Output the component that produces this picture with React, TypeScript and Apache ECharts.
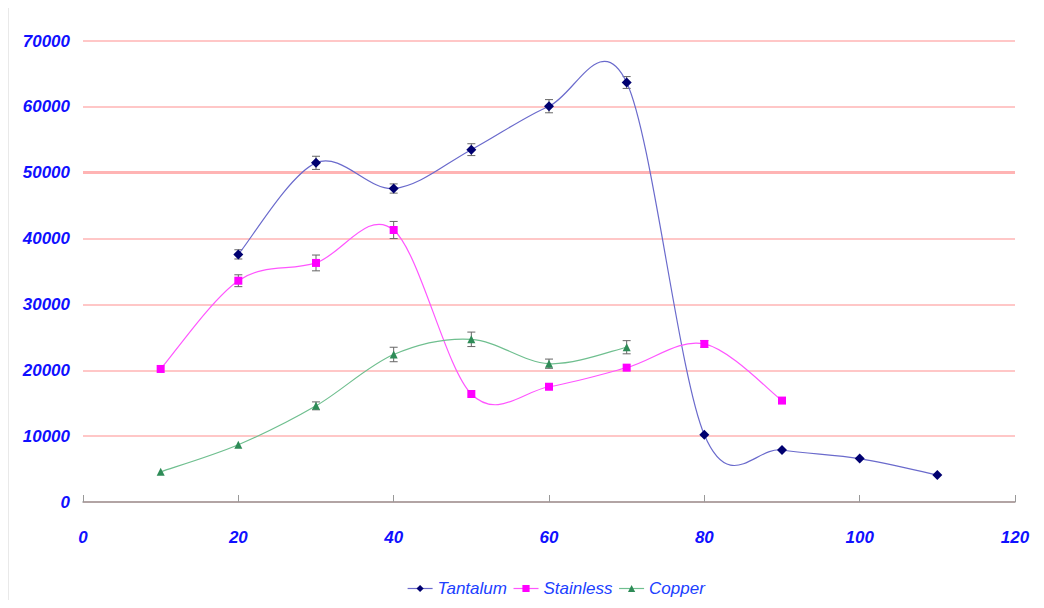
import React, { useEffect, useRef } from "react";
import * as echarts from "echarts";

const tantalumX = [20, 30, 40, 50, 60, 70, 80, 90, 100, 110];
const tantalum = [37600, 51500, 47600, 53500, 60100, 63700, 10200, 7900, 6600, 4100];
const tantalumErr = [700, 1000, 700, 900, 1000, 900, 0, 0, 0, 0];

const stainlessX = [10, 20, 30, 40, 50, 60, 70, 80, 90];
const stainless = [20200, 33600, 36300, 41300, 16400, 17500, 20400, 24000, 15400];
const stainlessErr = [0, 900, 1200, 1300, 0, 0, 0, 500, 0];

const copperX = [10, 20, 30, 40, 50, 60, 70];
const copper = [4600, 8700, 14600, 22400, 24700, 21000, 23500];
const copperErr = [0, 0, 600, 1100, 1100, 700, 1000];

const yTicks = [0, 10000, 20000, 30000, 40000, 50000, 60000, 70000];

function pairs(xs: number[], ys: number[]) {
  return xs.map((x, i) => [x, ys[i]]);
}
function errData(xs: number[], ys: number[], es: number[]) {
  return xs
    .map((x, i) => [x, ys[i] - es[i], ys[i] + es[i]])
    .filter((d, i) => es[i] > 0);
}

const errRender = (params: any, api: any) => {
  const x = api.value(0);
  const lo = api.coord([x, api.value(1)]);
  const hi = api.coord([x, api.value(2)]);
  const w = 4;
  const style = { stroke: "#666", lineWidth: 1 };
  return {
    type: "group",
    children: [
      { type: "line", shape: { x1: lo[0], y1: lo[1], x2: hi[0], y2: hi[1] }, style },
      { type: "line", shape: { x1: lo[0] - w, y1: lo[1], x2: lo[0] + w, y2: lo[1] }, style },
      { type: "line", shape: { x1: hi[0] - w, y1: hi[1], x2: hi[0] + w, y2: hi[1] }, style },
    ],
  };
};

// Excel-like (Catmull-Rom) smoothed segment from point i to point i+1
function makeCurveRender(xs: number[], ys: number[], color: string) {
  return (params: any, api: any) => {
    const i = params.dataIndex;
    const n = xs.length;
    if (i >= n - 1) return { type: "group", children: [] };
    const p = (k: number) => {
      const kk = Math.max(0, Math.min(n - 1, k));
      return api.coord([xs[kk], ys[kk]]);
    };
    const p0 = p(i - 1);
    const p1 = p(i);
    const p2 = p(i + 1);
    const p3 = p(i + 2);
    const t = 1 / 6;
    return {
      type: "bezierCurve",
      shape: {
        x1: p1[0],
        y1: p1[1],
        cpx1: p1[0] + (p2[0] - p0[0]) * t,
        cpy1: p1[1] + (p2[1] - p0[1]) * t,
        cpx2: p2[0] - (p3[0] - p1[0]) * t,
        cpy2: p2[1] - (p3[1] - p1[1]) * t,
        x2: p2[0],
        y2: p2[1],
      },
      style: { stroke: color, lineWidth: 1.2, fill: "none" },
    };
  };
}

const tantalumLine = "#6a6acc";
const stainlessLine = "#ff55ff";
const copperLine = "#6fbf8f";

export default function App() {
  const ref = useRef<HTMLDivElement>(null);
  useEffect(() => {
    const chart = echarts.init(ref.current!, null, { renderer: "svg" });
    const labelFont = {
      color: "#1010ff",
      fontFamily: "Liberation Sans",
      fontWeight: "bold" as const,
      fontStyle: "italic" as const,
      fontSize: 17,
    };
    const markerSeries = (name: string, xs: number[], ys: number[], symbol: string, size: number, color: string) => ({
      name,
      type: "line",
      data: pairs(xs, ys),
      symbol,
      symbolSize: size,
      itemStyle: { color },
      lineStyle: { width: 0, opacity: 0 },
      z: 6,
    });
    const curveSeries = (xs: number[], ys: number[], color: string) => ({
      type: "custom",
      renderItem: makeCurveRender(xs, ys, color),
      data: pairs(xs, ys),
      z: 5,
      silent: true,
    });
    chart.setOption({
      animation: false,
      backgroundColor: "#fff",
      graphic: {
        elements: [
          {
            type: "rect",
            z: 100,
            silent: true,
            shape: { x: 7, y: 6, width: 1032, height: 600 },
            style: { fill: "transparent", stroke: "#a8a8a8", lineWidth: 2.5 },
          },
        ],
      },
      grid: { left: 83, right: 29, top: 41, bottom: 106 },
      legend: {
        data: [
          { name: "Tantalum", lineStyle: { color: tantalumLine, width: 1.2, opacity: 1 } },
          { name: "Stainless", lineStyle: { color: stainlessLine, width: 1.2, opacity: 1 } },
          { name: "Copper", lineStyle: { color: copperLine, width: 1.2, opacity: 1 } },
        ],
        bottom: 6,
        left: 402,
        itemWidth: 25,
        itemHeight: 9,
        itemGap: 6,
        textStyle: {
          color: "#2040ff",
          fontFamily: "Liberation Sans",
          fontStyle: "italic",
          fontSize: 17,
        },
      },
      xAxis: {
        type: "value",
        min: 0,
        max: 120,
        interval: 20,
        splitLine: { show: false },
        axisLine: { show: true, lineStyle: { color: "#999", width: 1.5 } },
        axisTick: { show: true, inside: true, length: 7, lineStyle: { color: "#999" } },
        axisLabel: { ...labelFont, margin: 27 },
      },
      yAxis: {
        type: "value",
        min: yTicks[0],
        max: yTicks[yTicks.length - 1],
        interval: 10000,
        axisLine: { show: false },
        axisTick: { show: false },
        splitLine: { show: true, lineStyle: { color: "#ffb4b4", width: 1.6 } },
        axisLabel: { ...labelFont, margin: 13, formatter: (v: number) => String(v) },
      },
      series: [
        {
          ...markerSeries("Tantalum", tantalumX, tantalum, "diamond", 10, "#000070"),
          markLine: {
            silent: true,
            symbol: "none",
            label: { show: false },
            lineStyle: { color: "#ffb4b4", width: 3, type: "solid", opacity: 1 },
            data: [{ yAxis: 50000 }],
            z: 1,
          },
        },
        markerSeries("Stainless", stainlessX, stainless, "rect", 8, "#ff00ff"),
        markerSeries("Copper", copperX, copper, "triangle", 8, "#2e8b57"),
        curveSeries(tantalumX, tantalum, tantalumLine),
        curveSeries(stainlessX, stainless, stainlessLine),
        curveSeries(copperX, copper, copperLine),
        { type: "custom", renderItem: errRender, data: errData(tantalumX, tantalum, tantalumErr), z: 4, silent: true },
        { type: "custom", renderItem: errRender, data: errData(stainlessX, stainless, stainlessErr), z: 4, silent: true },
        { type: "custom", renderItem: errRender, data: errData(copperX, copper, copperErr), z: 4, silent: true },
      ],
    });
    return () => chart.dispose();
  }, []);
  return (
    <div style={{ position: "relative", width: 1044, height: 608, margin: -8 }}>
      <div ref={ref} style={{ width: 1044, height: 608 }} />
      <div
        style={{
          position: "absolute",
          left: 6,
          top: 5,
          width: 1034,
          height: 602,
          boxSizing: "border-box",
          border: "2px solid #aaaaaa",
          pointerEvents: "none",
        }}
      />
    </div>
  );
}
